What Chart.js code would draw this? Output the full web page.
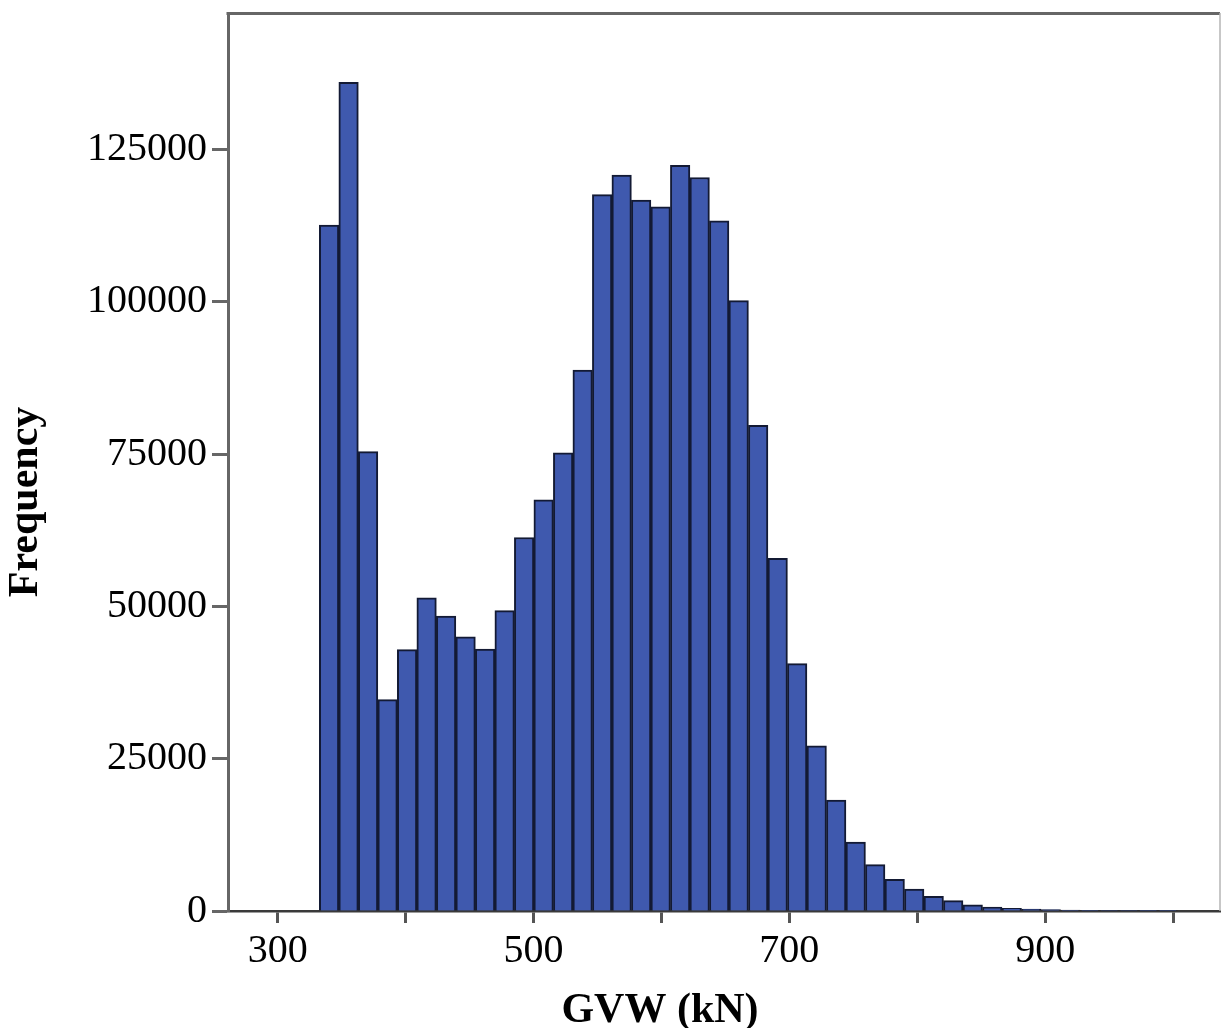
<!DOCTYPE html>
<html>
<head>
<meta charset="utf-8">
<title>GVW histogram</title>
<script src="https://cdn.jsdelivr.net/npm/chart.js@4/dist/chart.umd.min.js"></script>
<style>
  html, body { margin: 0; padding: 0; background: #ffffff; }
  canvas { display: block; }
</style>
</head>
<body>
<canvas id="hist" width="1222" height="1028"></canvas>
<script>
// Bin centres of the GVW histogram (kN), bin width 15.25 kN
const binCenters = [
  340.125, 355.375, 370.625, 385.875, 401.125, 416.375, 431.625, 446.875,
  462.125, 477.375, 492.625, 507.875, 523.125, 538.375, 553.625, 568.875,
  584.125, 599.375, 614.625, 629.875, 645.125, 660.375, 675.625, 690.875,
  706.125, 721.375, 736.625, 751.875, 767.125, 782.375, 797.625, 812.875,
  828.125, 843.375, 858.625, 873.875, 889.125, 904.375, 919.625, 934.875,
  950.125, 965.375, 980.625, 995.875
];

// Number of vehicles in each bin
const frequencies = [
  112600, 136000, 75400, 34700, 42900, 51400, 48400, 45000,
  43000, 49300, 61300, 67500, 75200, 88800, 117600, 120800,
  116700, 115600, 122400, 120400, 113300, 100200, 79700, 57900,
  40600, 27100, 18200, 11300, 7600, 5200, 3600, 2400,
  1700, 1000, 650, 450, 300, 220, 160, 120,
  90, 70, 50, 40
];

// Axis ticks
const xTickValues = [300, 400, 500, 600, 700, 800, 900, 1000];
const xLabeledTicks = [300, 500, 700, 900];
const yTickValues = [0, 25000, 50000, 75000, 100000, 125000];

const xTitle = 'GVW (kN)';
const yTitle = 'Frequency';

const serif = '"Liberation Serif", "Times New Roman", serif';

// Box around the plot plus the two axis titles
const framePlugin = {
  id: 'frameAndTitles',
  afterDraw(chart) {
    const { ctx, chartArea: a } = chart;
    ctx.save();
    ctx.strokeStyle = '#666666';
    ctx.lineWidth = 3;
    ctx.beginPath();
    ctx.moveTo(a.left - 1.5, a.top + 0.5);
    ctx.lineTo(a.right, a.top + 0.5);
    ctx.stroke();
    ctx.strokeStyle = '#b4b4b4';
    ctx.lineWidth = 1.5;
    ctx.beginPath();
    ctx.moveTo(a.right, a.top);
    ctx.lineTo(a.right, a.bottom);
    ctx.stroke();

    ctx.fillStyle = '#000000';
    ctx.font = 'bold 42px ' + serif;
    ctx.textAlign = 'center';
    ctx.textBaseline = 'alphabetic';
    ctx.fillText(xTitle, 660, 1022);
    ctx.translate(37, 502);
    ctx.rotate(-Math.PI / 2);
    ctx.fillText(yTitle, 0, 0);
    ctx.restore();
  }
};

new Chart(document.getElementById('hist'), {
  type: 'bar',
  data: {
    datasets: [{
      data: binCenters.map((x, i) => ({ x: x, y: frequencies[i] })),
      backgroundColor: '#3f59ae',
      borderColor: '#131a34',
      borderWidth: 2,
      barPercentage: 1,
      categoryPercentage: 1
    }]
  },
  options: {
    responsive: false,
    animation: false,
    devicePixelRatio: 1,
    layout: { padding: { left: 0, right: 2, top: 13, bottom: 0 } },
    plugins: {
      legend: { display: false },
      tooltip: { enabled: false },
      title: { display: false }
    },
    scales: {
      x: {
        type: 'linear',
        min: 261.1,
        max: 1036.7,
        offset: false,
        afterFit(scale) {
          scale.height = 117;
          scale.paddingLeft = 0;
          scale.paddingRight = 0;
        },
        afterBuildTicks(scale) { scale.ticks = xTickValues.map(v => ({ value: v })); },
        grid: {
          offset: false,
          drawOnChartArea: false,
          drawTicks: true,
          tickLength: 12,
          tickWidth: 3,
          tickColor: '#555555'
        },
        border: { display: true, color: '#3a3a3a', width: 2.5 },
        ticks: {
          padding: 4,
          maxRotation: 0,
          autoSkip: false,
          color: '#000000',
          font: { family: serif, size: 40 },
          callback: (v) => xLabeledTicks.includes(v) ? String(v) : ''
        }
      },
      y: {
        type: 'linear',
        min: 0,
        max: 147400,
        afterFit(scale) {
          scale.width = 228;
          scale.paddingTop = 0;
          scale.paddingBottom = 0;
        },
        afterBuildTicks(scale) { scale.ticks = yTickValues.map(v => ({ value: v })); },
        grid: {
          drawOnChartArea: false,
          drawTicks: true,
          tickLength: 16,
          tickWidth: 3,
          tickColor: '#666666'
        },
        border: { display: true, color: '#666666', width: 3 },
        ticks: {
          padding: 5,
          autoSkip: false,
          color: '#000000',
          font: { family: serif, size: 40 },
          callback: (v) => String(v)
        }
      }
    }
  },
  plugins: [framePlugin]
});
</script>
</body>
</html>
